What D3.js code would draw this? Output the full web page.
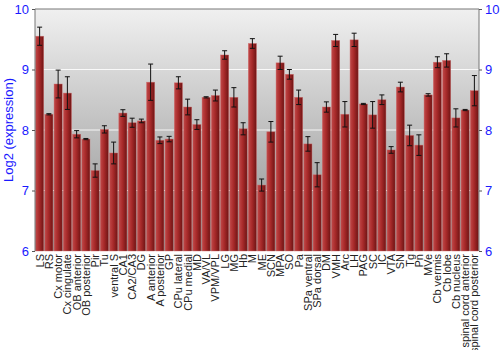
<!DOCTYPE html>
<html>
<head>
<meta charset="utf-8">
<script src="https://cdn.jsdelivr.net/npm/d3@7"></script>
<style>
  body { margin: 0; background: #fff; }
  svg { font-family: "Liberation Sans", Arial, sans-serif; }
</style>
</head>
<body>
<div id="chart"></div>
<script>
var regions = ["LS", "RS", "Cx motor", "Cx cingulate", "OB anterior", "OB posterior", "Pir", "Tu",
    "ventral S", "CA1", "CA2/CA3", "DG", "A anterior", "A posterior", "GP", "CPu lateral",
    "CPu medial", "MD", "VA/VL", "VPM/VPL", "LG", "MG", "Hb", "M", "ME", "SCN", "MPA", "SO",
    "Pa", "SPa ventral", "SPa dorsal", "DM", "VMH", "Arc", "LH", "PAG", "SC", "IC", "VTA", "SN",
    "Tg", "Pn", "MVe", "Cb vermis", "Cb lobe", "Cb nucleus", "spinal cord anterior", "spinal cord posterior"];

var expression = [9.55, 8.26, 8.76, 8.61, 7.93, 7.85, 7.33, 8.01,
    7.62, 8.28, 8.12, 8.15, 8.79, 7.83, 7.85, 8.78,
    8.38, 8.09, 8.54, 8.57, 9.24, 8.54, 8.02, 9.43, 7.09, 7.97, 9.11, 8.92,
    8.54, 7.77, 7.26, 8.38, 9.48, 8.26, 9.49, 8.43, 8.25, 8.50, 7.67, 8.71,
    7.91, 7.75, 8.58, 9.12, 9.15, 8.20, 8.33, 8.65];

var errors = [0.15, 0.01, 0.23, 0.27, 0.06, 0.01, 0.11, 0.06,
    0.18, 0.055, 0.075, 0.03, 0.30, 0.055, 0.045, 0.10,
    0.13, 0.08, 0.01, 0.09, 0.07, 0.16, 0.10, 0.08, 0.10, 0.17, 0.11, 0.08,
    0.12, 0.12, 0.20, 0.085, 0.10, 0.21, 0.11, 0.01, 0.22, 0.08, 0.055, 0.08,
    0.17, 0.17, 0.02, 0.09, 0.11, 0.15, 0.01, 0.25];

var yTicks = [6, 7, 8, 9, 10];

var width = 500, height = 350;
var margin = {top: 9, right: 21, bottom: 99, left: 35};

var svg = d3.select('#chart')
    .append('svg')
    .attr('width', width)
    .attr('height', height);

var defs = svg.append('defs');

var bg = defs.append('linearGradient')
    .attr('id', 'bg-grad')
    .attr('x1', 0).attr('y1', 0).attr('x2', 0).attr('y2', 1);
bg.append('stop').attr('offset', '0%').attr('stop-color', '#f0f0f0');
bg.append('stop').attr('offset', '100%').attr('stop-color', '#8e8e8e');

var barGrad = defs.append('linearGradient')
    .attr('id', 'bar-grad')
    .attr('x1', 0).attr('y1', 0).attr('x2', 1).attr('y2', 0);
barGrad.append('stop').attr('offset', '0%').attr('stop-color', '#c04848');
barGrad.append('stop').attr('offset', '45%').attr('stop-color', '#a82a2a');
barGrad.append('stop').attr('offset', '100%').attr('stop-color', '#6e1414');

var x = d3.scaleBand()
    .domain(regions)
    .range([margin.left, width - margin.right])
    .paddingInner(0.12)
    .paddingOuter(0.06);

var y = d3.scaleLinear()
    .domain([6, 10])
    .range([height - margin.bottom, margin.top]);

// background
svg.append('rect')
    .attr('x', margin.left)
    .attr('y', margin.top)
    .attr('width', width - margin.left - margin.right)
    .attr('height', height - margin.top - margin.bottom)
    .attr('fill', 'url(#bg-grad)');

// grid
svg.append('g')
    .selectAll('line')
    .data(yTicks.slice(1, -1))
    .enter()
    .append('line')
    .attr('x1', margin.left)
    .attr('x2', width - margin.right)
    .attr('y1', function(d) { return y(d); })
    .attr('y2', function(d) { return y(d); })
    .attr('stroke', '#ffffff')
    .attr('stroke-opacity', 0.85)
    .attr('stroke-width', 1.2);

// bars
svg.append('g')
    .selectAll('rect')
    .data(expression)
    .enter()
    .append('rect')
    .attr('x', function(d, i) { return x(regions[i]); })
    .attr('y', function(d) { return y(d); })
    .attr('width', x.bandwidth())
    .attr('height', function(d) { return y(6) - y(d); })
    .attr('fill', 'url(#bar-grad)')
    .attr('stroke', '#d06a6a')
    .attr('stroke-width', 0.6)
    .attr('stroke-opacity', 0.7);

// error bars
var eb = svg.append('g')
    .selectAll('g')
    .data(expression)
    .enter()
    .append('g')
    .attr('stroke', '#111')
    .attr('stroke-width', 1);

eb.append('line')
    .attr('x1', function(d, i) { return x(regions[i]) + x.bandwidth() / 2; })
    .attr('x2', function(d, i) { return x(regions[i]) + x.bandwidth() / 2; })
    .attr('y1', function(d, i) { return y(d - errors[i]); })
    .attr('y2', function(d, i) { return y(d + errors[i]); });

eb.selectAll('line.cap')
    .data(function(d, i) { return [[i, d - errors[i]], [i, d + errors[i]]]; })
    .enter()
    .append('line')
    .attr('class', 'cap')
    .attr('x1', function(d) { return x(regions[d[0]]) + x.bandwidth() / 2 - 2.5; })
    .attr('x2', function(d) { return x(regions[d[0]]) + x.bandwidth() / 2 + 2.5; })
    .attr('y1', function(d) { return y(d[1]); })
    .attr('y2', function(d) { return y(d[1]); });

// frame
svg.append('path')
    .attr('d', 'M' + margin.left + ',' + (height - margin.bottom) +
        'V' + margin.top + 'H' + (width - margin.right) + 'V' + (height - margin.bottom))
    .attr('fill', 'none')
    .attr('stroke', '#777')
    .attr('stroke-width', 1);

// axes
var leftAxis = svg.append('g')
    .attr('transform', 'translate(' + margin.left + ',0)')
    .call(d3.axisLeft(y).tickValues(yTicks).tickSize(3).tickFormat(d3.format('d')));
var rightAxis = svg.append('g')
    .attr('transform', 'translate(' + (width - margin.right) + ',0)')
    .call(d3.axisRight(y).tickValues(yTicks).tickSize(3).tickFormat(d3.format('d')));

[leftAxis, rightAxis].forEach(function(a) {
    a.select('.domain').remove();
    a.selectAll('.tick line').attr('stroke', '#555');
    a.selectAll('.tick text')
        .attr('fill', '#1a1aff')
        .style('font-size', '13px')
        .style('font-family', '"Liberation Sans", Arial, sans-serif');
});

// x labels
svg.append('g')
    .selectAll('text')
    .data(regions)
    .enter()
    .append('text')
    .attr('transform', function(d) {
        return 'translate(' + (x(d) + x.bandwidth() / 2 + 4) + ',' + (height - margin.bottom + 3) + ') rotate(-90)';
    })
    .attr('text-anchor', 'end')
    .attr('fill', '#222')
    .style('font-size', '11px')
    .text(function(d) { return d; });

// y title
svg.append('text')
    .attr('transform', 'translate(13,' + ((margin.top + height - margin.bottom) / 2) + ') rotate(-90)')
    .attr('text-anchor', 'middle')
    .attr('fill', '#1a1aff')
    .style('font-size', '13px')
    .text('Log2 (expression)');
</script>
</body>
</html>
